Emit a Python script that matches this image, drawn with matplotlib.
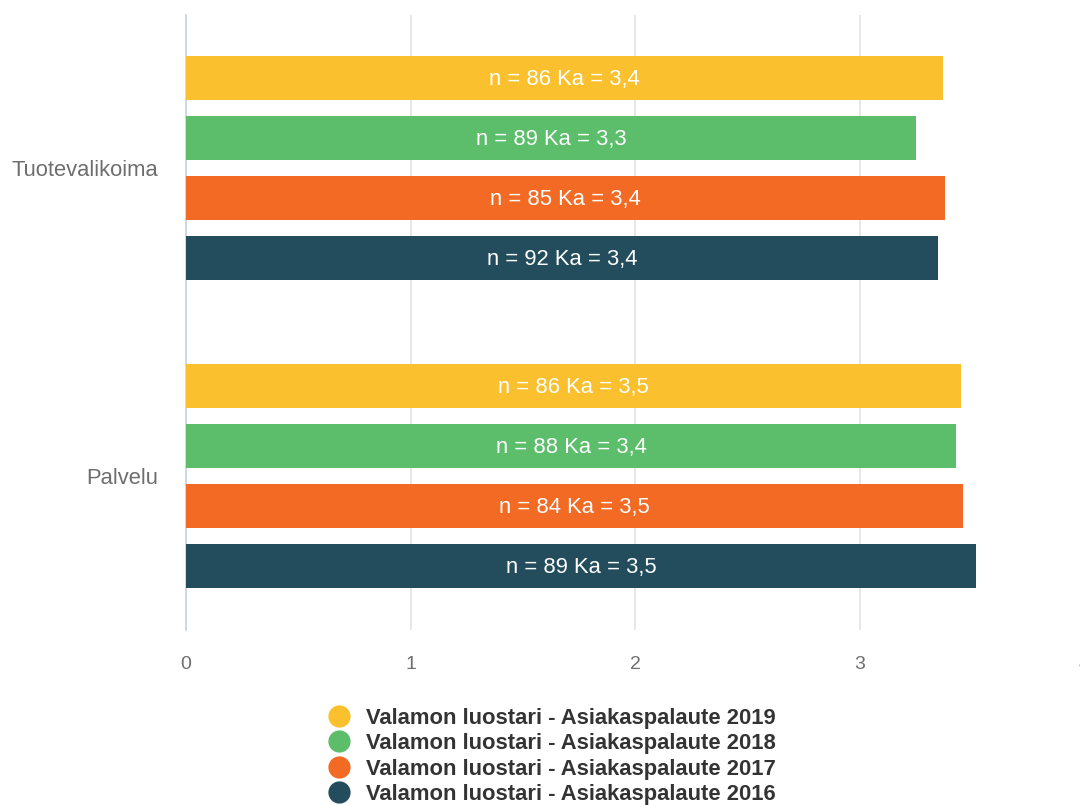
import numpy as np
import matplotlib.pyplot as plt
from matplotlib.lines import Line2D

plt.rcParams['font.family'] = ['Liberation Sans', 'DejaVu Sans']

categories = ['Tuotevalikoima', 'Palvelu']
series = ['Valamon luostari - Asiakaspalaute 2019',
          'Valamon luostari - Asiakaspalaute 2018',
          'Valamon luostari - Asiakaspalaute 2017',
          'Valamon luostari - Asiakaspalaute 2016']
colors = ['#FBC02D', '#5CBD6B', '#F26A24', '#234D5C']

# mean values per series, [Tuotevalikoima, Palvelu]
means = [[3.37, 3.45],
         [3.25, 3.43],
         [3.38, 3.46],
         [3.35, 3.52]]
counts = [[86, 86],
          [89, 88],
          [85, 84],
          [92, 89]]
ka_labels = [['3,4', '3,5'],
             ['3,3', '3,4'],
             ['3,4', '3,5'],
             ['3,4', '3,5']]

fig = plt.figure(figsize=(10.8, 8.05), dpi=100)
ax = fig.add_axes([186/1080, 1-630/805, (1084-186)/1080, 615/805])

step = 60/307.5
h = 44/307.5
y = np.arange(len(categories))
for i, s in enumerate(series):
    off = (i - 1.5) * step
    ax.barh(y + off, means[i], height=h, color=colors[i], zorder=3)
    for j in range(len(categories)):
        ax.text(means[i][j] / 2, y[j] + off + 0.005,
                'n = %d Ka = %s' % (counts[i][j], ka_labels[i][j]),
                color='white', fontsize=15.8, ha='center', va='center', zorder=4)

ax.set_xlim(0, 4)
ax.set_ylim(1.502, -0.498)
ax.set_xticks([0, 1, 2, 3, 4])
ax.set_yticks(y)
ax.set_yticklabels(categories, fontsize=15.8)
ax.grid(axis='x', color='#e3e3e3', linewidth=1.2, zorder=0)
for sp in ['top', 'right', 'bottom']:
    ax.spines[sp].set_visible(False)
ax.spines['left'].set_color('#c8d0ea')
ax.spines['left'].set_linewidth(1.2)
ax.tick_params(axis='both', length=0, colors='#6e6e6e')
ax.tick_params(axis='x', pad=19, labelsize=14)
ax.tick_params(axis='y', pad=20)

handles = [Line2D([], [], marker='o', linestyle='', markersize=15,
                  markerfacecolor=c, markeredgecolor=c) for c in colors]
fig.legend(handles, series, loc='upper left', bbox_to_anchor=(308/1080, 1-699/805),
           frameon=False, labelspacing=0.2, handletextpad=0.25,
           borderaxespad=0, labelcolor='#333333',
           prop={'family': ['Liberation Sans', 'DejaVu Sans'], 'size': 15.8, 'weight': 'bold'})

fig.savefig('out.png', dpi=100)
